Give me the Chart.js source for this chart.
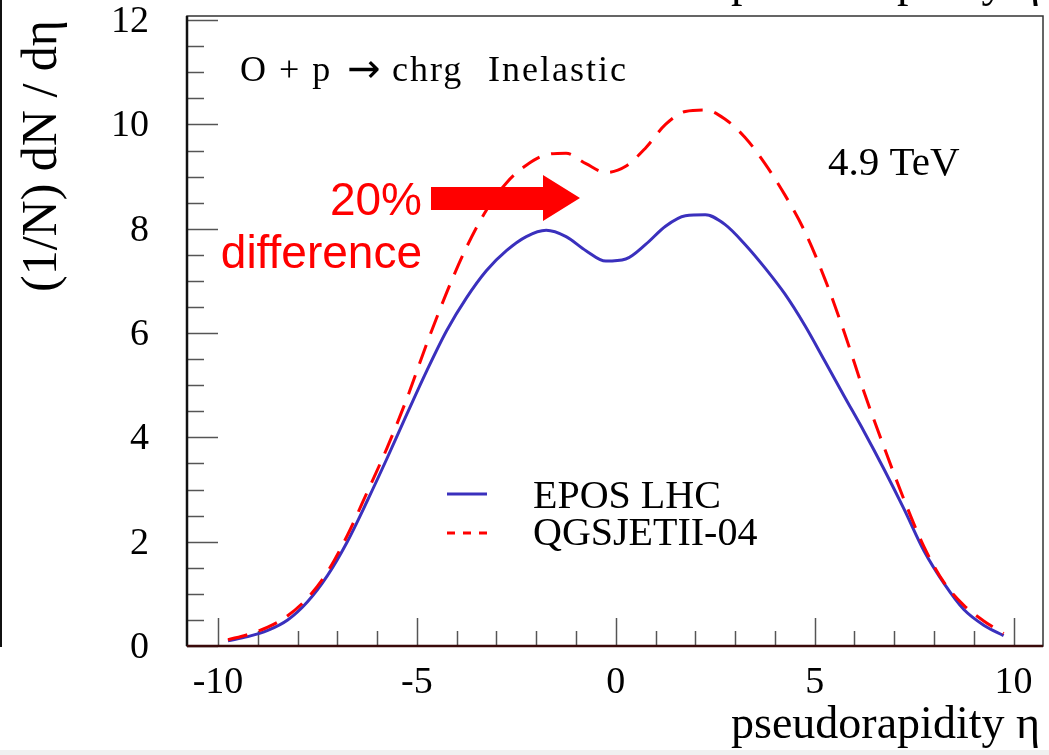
<!DOCTYPE html>
<html>
<head>
<meta charset="utf-8">
<script src="https://cdn.jsdelivr.net/npm/chart.js@4.4.1/dist/chart.umd.min.js"></script>
<style>
  html, body { margin: 0; padding: 0; background: #fff; }
  #wrap { width: 1049px; height: 755px; position: relative; }
</style>
</head>
<body>
<div id="wrap"><canvas id="etaChart" width="1049" height="755"></canvas></div>
<script>
// pseudorapidity bins (bin centres)
const eta = [-9.75, -9.25, -8.75, -8.25, -7.75, -7.25, -6.75, -6.25, -5.75, -5.25,
             -4.75, -4.25, -3.75, -3.25, -2.75, -2.25, -1.75, -1.25, -0.75, -0.25,
              0.25,  0.75,  1.25,  1.75,  2.25,  2.75,  3.25,  3.75,  4.25,  4.75,
              5.25,  5.75,  6.25,  6.75,  7.25,  7.75,  8.25,  8.75,  9.25,  9.75];

// (1/N) dN/deta
const eposLHC = [0.10, 0.18, 0.30, 0.50, 0.85, 1.35, 2.00, 2.78, 3.60, 4.45,
                 5.28, 6.05, 6.68, 7.20, 7.58, 7.85, 7.97, 7.85, 7.58, 7.38,
                 7.42, 7.70, 8.05, 8.25, 8.27, 8.08, 7.70, 7.25, 6.75, 6.15,
                 5.47, 4.78, 4.10, 3.38, 2.62, 1.82, 1.20, 0.70, 0.40, 0.20];
const qgsjet = [0.12, 0.22, 0.36, 0.58, 0.92, 1.42, 2.12, 2.95, 3.80, 4.75,
                5.80, 6.78, 7.65, 8.36, 8.88, 9.22, 9.42, 9.45, 9.25, 9.08,
                9.20, 9.55, 10.00, 10.25, 10.28, 10.10, 9.75, 9.25, 8.65, 7.95,
                7.05, 6.00, 4.85, 3.80, 2.80, 1.90, 1.22, 0.78, 0.48, 0.24];

const seriesNames = ["EPOS LHC", "QGSJETII-04"];
const xTicks = [-10, -5, 0, 5, 10];
const yTicks = [0, 2, 4, 6, 8, 10, 12];

const BLUE = "#3a30bd";
const RED = "#ff0000";
const SERIF = "'Liberation Serif', 'DejaVu Serif', serif";
const SANS = "'Liberation Sans', Arial, sans-serif";

// ROOT-style frame, inward ticks and all the text
const rootStyle = {
    id: "rootStyle",
    beforeDatasetsDraw(chart) {
        const ctx = chart.ctx;
        const a = chart.chartArea;
        const xs = chart.scales.x, ys = chart.scales.y;
        ctx.save();
        ctx.strokeStyle = "#555";
        ctx.lineWidth = 1.5;
        // x ticks (major every 5, minor every 1)
        for (let v = -10; v <= 10; v++) {
            const px = Math.round(xs.getPixelForValue(v)) + 0.5;
            const len = (v % 5 === 0) ? 28 : 15;
            ctx.beginPath();
            ctx.moveTo(px, a.bottom);
            ctx.lineTo(px, a.bottom - len);
            ctx.stroke();
        }
        // y ticks (major every 2, minor every 0.5)
        for (let k = 0; k <= 24; k++) {
            const v = k * 0.5;
            const py = Math.round(ys.getPixelForValue(v)) + 0.5;
            const len = (k % 4 === 0) ? 31 : 17;
            ctx.beginPath();
            ctx.moveTo(a.left, py);
            ctx.lineTo(a.left + len, py);
            ctx.stroke();
        }
        ctx.restore();
    },
    afterDraw(chart) {
        const ctx = chart.ctx;
        const a = chart.chartArea;
        const xs = chart.scales.x, ys = chart.scales.y;
        ctx.save();

        // frame
        ctx.strokeStyle = "#333";
        ctx.lineWidth = 1.5;
        ctx.strokeRect(a.left, a.top, a.right - a.left, a.bottom - a.top);
        ctx.lineWidth = 2.5;
        ctx.strokeStyle = "#111";
        ctx.beginPath();
        ctx.moveTo(a.left, a.top);
        ctx.lineTo(a.left, a.bottom);
        ctx.stroke();
        ctx.strokeStyle = "#3a0a0a";
        ctx.beginPath();
        ctx.moveTo(a.left, a.bottom);
        ctx.lineTo(a.right, a.bottom);
        ctx.stroke();

        // tick labels
        ctx.fillStyle = "#000";
        ctx.font = "38px " + SERIF;
        ctx.textAlign = "center";
        ctx.textBaseline = "alphabetic";
        xTicks.forEach(v => ctx.fillText(String(v), xs.getPixelForValue(v), 693));
        ctx.textAlign = "right";
        ctx.textBaseline = "middle";
        yTicks.forEach(v => ctx.fillText(String(v), 149, ys.getPixelForValue(v) + 2));

        // axis titles
        ctx.font = "46px " + SERIF;
        ctx.textBaseline = "alphabetic";
        ctx.textAlign = "right";
        ctx.fillText("pseudorapidity \u03b7", 1040, 738);
        ctx.fillText("pseudorapidity \u03b7", 1040, -4);
        ctx.save();
        ctx.translate(56, 20);
        ctx.rotate(-Math.PI / 2);
        ctx.font = "50px " + SERIF;
        ctx.textAlign = "right";
        ctx.fillText("(1/N) dN / d\u03b7", 0, 0);
        ctx.restore();

        // annotations
        ctx.textAlign = "left";
        ctx.font = "36px " + SERIF;
        ctx.letterSpacing = "2px";
        ctx.fillText("O + p", 240, 81);
        ctx.fillText("chrg", 392, 81);
        ctx.fillText("Inelastic", 488, 81);
        ctx.letterSpacing = "0px";
        ctx.font = "40px 'DejaVu Sans', sans-serif";
        ctx.textAlign = "center";
        ctx.fillText("\u2192", 364, 82);
        ctx.textAlign = "left";
        ctx.font = "41px " + SERIF;
        ctx.fillText("4.9 TeV", 828, 175);

        // legend
        ctx.lineWidth = 3;
        ctx.strokeStyle = BLUE;
        ctx.beginPath();
        ctx.moveTo(447, 494);
        ctx.lineTo(487, 494);
        ctx.stroke();
        ctx.strokeStyle = RED;
        ctx.setLineDash([8, 8]);
        ctx.beginPath();
        ctx.moveTo(447, 533);
        ctx.lineTo(487, 533);
        ctx.stroke();
        ctx.setLineDash([]);
        ctx.font = "40px " + SERIF;
        ctx.fillText(seriesNames[0], 533, 508);
        ctx.fillText(seriesNames[1], 533, 545);

        // "20% difference" with arrow
        ctx.fillStyle = RED;
        ctx.font = "46px " + SANS;
        ctx.textAlign = "right";
        ctx.fillText("20%", 422, 215);
        ctx.fillText("difference", 422, 268);
        ctx.beginPath();
        ctx.moveTo(431, 187);
        ctx.lineTo(543, 187);
        ctx.lineTo(543, 175);
        ctx.lineTo(580, 198);
        ctx.lineTo(543, 221);
        ctx.lineTo(543, 210);
        ctx.lineTo(431, 210);
        ctx.closePath();
        ctx.fill();

        // page edges from the cropped figure
        ctx.fillStyle = "#111";
        ctx.fillRect(0, 0, 2, 647);
        ctx.fillStyle = "#f0f0f0";
        ctx.fillRect(0, 750, 1049, 5);
        ctx.restore();
    }
};

const ctx = document.getElementById("etaChart").getContext("2d");
new Chart(ctx, {
    type: "line",
    data: {
        datasets: [
            {
                label: seriesNames[1],
                data: eta.map((x, i) => ({ x: x, y: qgsjet[i] })),
                borderColor: RED,
                borderWidth: 3,
                borderDash: [20, 12],
                pointRadius: 0,
                fill: false,
                cubicInterpolationMode: "monotone"
            },
            {
                label: seriesNames[0],
                data: eta.map((x, i) => ({ x: x, y: eposLHC[i] })),
                borderColor: BLUE,
                borderWidth: 3,
                pointRadius: 0,
                fill: false,
                cubicInterpolationMode: "monotone"
            }
        ]
    },
    options: {
        responsive: false,
        animation: false,
        layout: { padding: { left: 187, right: 6, top: 16, bottom: 109 } },
        plugins: {
            legend: { display: false },
            tooltip: { enabled: false }
        },
        scales: {
            x: { type: "linear", min: -10.78, max: 10.74, display: false },
            y: { type: "linear", min: 0, max: 12.08, display: false }
        }
    },
    plugins: [rootStyle]
});
</script>
</body>
</html>
